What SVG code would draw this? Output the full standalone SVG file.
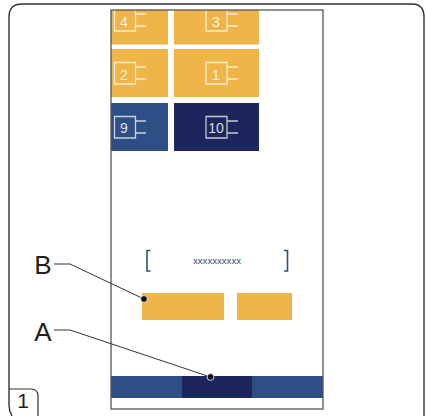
<svg xmlns="http://www.w3.org/2000/svg" width="427" height="416" viewBox="0 0 427 416">
<style>
.o{fill:#f0b548}.b{fill:#2d4f86}.n{fill:#1c265c}
.ic{fill:none;stroke:#fff;stroke-opacity:.75;stroke-width:1.3}
.t{font-family:"Liberation Sans",Arial,sans-serif;font-size:14px;fill:#fff;fill-opacity:.85;text-anchor:middle}
.l{font-family:"Liberation Sans",Arial,sans-serif;font-size:26px;fill:#231f20;text-anchor:middle}
.c{fill:none;stroke:#333;stroke-width:1}
.d{fill:#111;stroke:#fff;stroke-width:.8}
</style>
<rect width="427" height="416" fill="#fff"/>
<g id="frame"><path d="M12 416Q9 411 9 405V17Q9 4 22 4H412Q424 4 424 17V416" fill="none" stroke="#333" stroke-width="1.4"/></g>
<g id="tag"><path d="M9 389H31Q38 389 38 396V416" fill="none" stroke="#333" stroke-width="1.2"/><text x="23" y="408" font-family="Liberation Sans,Arial,sans-serif" font-size="21" fill="#231f20" text-anchor="middle">1</text></g>
<g id="screen">
<g id="n4"><rect class="o" x="111" y="10" width="57" height="34.500"/><path class="ic" d="M114.500 10V31H135.500V10M135.500 14H146M135.500 26H146"/><text class="t" x="124" y="27">4</text></g>
<g id="n3"><rect class="o" x="174" y="10" width="85" height="34.500"/><path class="ic" d="M206 10V31H227V10M227 14H238M227 26H238"/><text class="t" x="216" y="27">3</text></g>
<g id="n2"><rect class="o" x="111" y="49" width="57" height="48"/><path class="ic" d="M114.500 62.500H135.500V84H114.500ZM135.500 67H146M135.500 79H146"/><text class="t" x="124" y="79.500">2</text></g>
<g id="n1"><rect class="o" x="174" y="49" width="85" height="48"/><path class="ic" d="M206 62.500H227V84H206ZM227 67H238M227 79H238"/><text class="t" x="216" y="79.500">1</text></g>
<g id="n9"><rect class="b" x="111" y="103" width="57" height="48"/><path class="ic" d="M114.500 116.500H135.500V138H114.500ZM135.500 121H146M135.500 133H146"/><text class="t" x="124" y="133">9</text></g>
<g id="n10"><rect class="n" x="174" y="103" width="85" height="48"/><path class="ic" d="M206 116.500H227V138H206ZM227 121H238M227 133H238"/><text class="t" x="216" y="133">10</text></g>
<g id="input"><path d="M150.500 250.500H147V271H150.500M284 250.500H287.500V271H284" fill="none" stroke="#2d4f86" stroke-width="1.6"/><text x="217" y="263.500" font-family="Liberation Sans,Arial,sans-serif" font-size="9.600" fill="#2d4f86" text-anchor="middle">xxxxxxxxxx</text></g>
<g id="btn1"><rect class="o" x="142" y="293" width="82" height="27"/></g>
<g id="btn2"><rect class="o" x="237" y="293" width="55" height="27"/></g>
<g id="bar"><rect class="b" x="111" y="376" width="212" height="22"/><rect class="n" x="182" y="376" width="70" height="22"/></g>
<rect x="111" y="10" width="212" height="399" fill="none" stroke="#555" stroke-width="1.3"/>
</g>
<g id="connectors">
<path class="c" d="M54 264H70L144 299"/>
<path class="c" d="M54 330H70L210.500 377"/>
<circle class="d" cx="144" cy="299" r="3.400"/>
<circle class="d" cx="210.500" cy="377" r="3.400"/>
</g>
<g id="labels"><text class="l" x="43" y="274">B</text><text class="l" x="43" y="341">A</text></g>
</svg>
